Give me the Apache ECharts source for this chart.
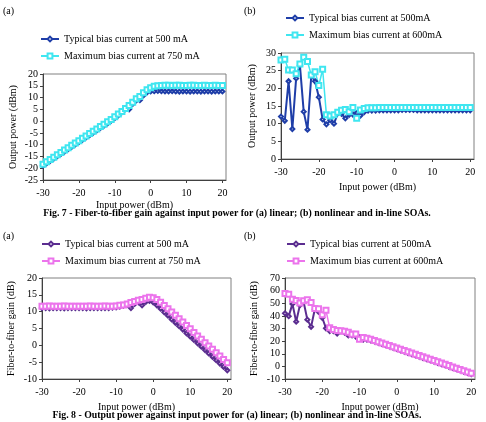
<!DOCTYPE html>
<html>
<head>
<meta charset="utf-8">
<script src="https://cdn.jsdelivr.net/npm/echarts@6/dist/echarts.min.js"></script>
<style>
  html, body { margin: 0; padding: 0; background: #fff; }
  #fig7 { width: 486px; height: 222px; }
  #fig8 { width: 486px; height: 200px; }
</style>
</head>
<body>
<div id="fig7"></div>
<div id="fig8"></div>
<script>
// input power (dBm), one point per dB
var inputPower = [-30,-29,-28,-27,-26,-25,-24,-23,-22,-21,-20,-19,-18,-17,-16,-15,-14,-13,-12,-11,
  -10,-9,-8,-7,-6,-5,-4,-3,-2,-1,0,1,2,3,4,5,6,7,8,9,10,11,12,13,14,15,16,17,18,19,20];
var xTicks = [-30, -20, -10, 0, 10, 20];

// Fig. 7 (a) output power, linear SOA
var outLinTyp = [-18.9,-17.9,-16.9,-15.9,-14.9,-13.9,-12.9,-11.9,-10.9,-9.9,
  -8.9,-7.9,-6.9,-5.9,-4.9,-3.9,-2.9,-1.9,-0.9,0.2,
  1.3,2.5,3.8,5.1,5.0,7.3,8.8,8.9,10.9,12.2,
  12.6,12.7,12.8,12.7,12.6,12.6,12.7,12.6,12.5,12.6,
  12.6,12.5,12.6,12.6,12.5,12.6,12.6,12.5,12.6,12.6,
  12.6];
var outLinMax = [-18.3,-17.3,-16.3,-15.3,-14.3,-13.3,-12.3,-11.3,-10.3,-9.3,
  -8.3,-7.3,-6.3,-5.3,-4.3,-3.3,-2.3,-1.3,-0.3,0.7,
  1.8,3.0,4.1,5.4,6.6,8.0,9.5,10.5,12.0,13.3,
  14.2,14.8,15.0,15.1,15.2,15.2,15.1,15.2,15.2,15.1,
  15.1,15.2,15.2,15.1,15.1,15.2,15.1,15.1,15.2,15.1,
  15.1];

// Fig. 7 (b) output power, nonlinear / in-line SOA
var outNonTyp = [12.0,10.8,22.0,8.5,22.8,26.5,13.4,8.3,23.5,22.0,
  17.5,11.2,9.8,11.0,10.0,12.9,12.8,11.5,12.5,12.6,
  13.0,12.3,13.3,13.7,13.7,13.7,13.8,13.8,13.8,13.8,
  13.8,13.8,13.9,13.9,13.9,13.9,13.8,13.8,13.8,13.8,
  13.8,13.8,13.8,13.8,13.8,13.8,13.8,13.8,13.8,13.8,
  13.8];
var outNonMax = [28.0,28.2,25.2,25.2,24.1,26.9,28.8,27.6,23.8,24.7,
  20.8,25.4,12.5,12.2,12.5,13.2,13.8,14.0,13.4,14.6,
  11.5,13.9,14.3,14.5,14.5,14.5,14.6,14.6,14.6,14.6,
  14.6,14.6,14.6,14.6,14.6,14.6,14.6,14.6,14.6,14.6,
  14.6,14.6,14.6,14.6,14.6,14.6,14.6,14.6,14.6,14.6,
  14.6];

// Fig. 8 (a) fiber-to-fiber gain, linear SOA
var gainLinTyp = [11.1,11.1,11.0,11.1,11.1,11.1,11.0,11.1,11.1,11.1,
  11.1,11.1,11.0,11.1,11.1,11.1,11.1,11.1,11.1,11.2,
  11.3,11.5,11.8,12.1,11.1,12.3,12.8,11.9,12.9,13.2,
  12.8,11.9,10.9,9.8,8.8,7.7,6.7,5.7,4.7,3.6,
  2.6,1.6,0.6,-0.4,-1.4,-2.4,-3.4,-4.4,-5.4,-6.4,
  -7.4];
var gainLinMax = [11.6,11.6,11.7,11.6,11.6,11.6,11.7,11.6,11.6,11.6,
  11.6,11.6,11.6,11.7,11.6,11.6,11.6,11.7,11.6,11.6,
  11.7,11.9,12.0,12.3,12.7,13.0,13.4,13.6,14.0,14.3,
  14.1,13.6,12.8,11.8,10.9,9.9,8.9,7.9,6.9,5.9,
  4.9,3.8,2.8,1.8,0.8,-0.2,-1.2,-2.2,-3.2,-4.2,
  -5.2];

// Fig. 8 (b) fiber-to-fiber gain, nonlinear / in-line SOA
var gainNonTyp = [42.0,39.8,49.5,35.4,48.5,51.0,37.0,31.3,45.3,43.2,
  38.5,30.2,28.0,28.0,26.0,27.8,26.7,24.5,24.5,23.6,
  23.0,21.3,21.3,20.7,19.8,18.8,17.8,16.8,15.8,14.8,
  13.8,12.8,11.8,10.8,9.8,8.8,7.8,6.8,5.8,4.8,
  3.8,2.8,1.8,0.8,-0.2,-1.2,-2.2,-3.2,-4.2,-5.2,
  -6.2];
var gainNonMax = [57.8,57.2,53.2,52.2,50.1,51.9,52.8,50.6,45.8,45.7,
  40.8,44.4,30.5,29.2,28.5,28.2,27.8,27.0,25.4,25.6,
  21.5,22.9,22.3,21.5,20.5,19.5,18.6,17.6,16.6,15.6,
  14.6,13.6,12.6,11.6,10.6,9.6,8.6,7.6,6.6,5.6,
  4.6,3.6,2.6,1.6,0.6,-0.4,-1.4,-2.4,-3.4,-4.4,
  -5.4];

var FONT = "Liberation Serif";
var FS = 10;
var axisColor = "#404040";

function pairs(ys) {
  return inputPower.map(function (x, i) { return [x, ys[i]]; });
}

function xAxisCfg(idx, nameGap) {
  return {
    gridIndex: idx, type: "value", min: -30, max: 21,
    axisLine: { onZero: false, lineStyle: { color: axisColor } },
    axisTick: { length: 3, customValues: xTicks, lineStyle: { color: axisColor } },
    axisLabel: { customValues: xTicks, margin: 8, fontSize: FS, fontFamily: FONT, color: "#000" },
    splitLine: { show: false },
    name: "Input power (dBm)", nameLocation: "middle", nameGap: nameGap,
    nameTextStyle: { fontSize: FS, fontFamily: FONT, color: "#000" }
  };
}

function yAxisCfg(idx, min, max, interval, name, nameGap) {
  return {
    gridIndex: idx, type: "value", min: min, max: max, interval: interval,
    axisLine: { onZero: false, lineStyle: { color: axisColor } },
    axisTick: { length: 3, lineStyle: { color: axisColor } },
    axisLabel: { margin: 5, fontSize: FS, fontFamily: FONT, color: "#000" },
    splitLine: { show: false },
    name: name, nameLocation: "middle", nameGap: nameGap,
    nameTextStyle: { fontSize: FS, fontFamily: FONT, color: "#000" }
  };
}

function typSeries(name, idx, ys, color) {
  return {
    name: name, type: "line", xAxisIndex: idx, yAxisIndex: idx, data: pairs(ys),
    symbol: "emptyDiamond", symbolSize: 4,
    lineStyle: { width: 2, color: color },
    itemStyle: { color: color, borderWidth: 1 }
  };
}

function maxSeries(name, idx, ys, color) {
  return {
    name: name, type: "line", xAxisIndex: idx, yAxisIndex: idx, data: pairs(ys),
    symbol: "emptyRect", symbolSize: 5,
    lineStyle: { width: 1.5, color: color },
    itemStyle: { color: color, borderWidth: 1 }
  };
}

function legendCfg(names, left, top) {
  return {
    data: names, orient: "vertical", left: left, top: top, padding: 0,
    itemWidth: 18, itemHeight: 6, itemGap: 7,
    textStyle: { fontSize: FS, fontFamily: FONT, color: "#000" }
  };
}

function label(text, x, y, bold) {
  return {
    type: "text", x: x, y: y,
    style: {
      text: text, fill: "#000",
      font: (bold ? "bold 9.8px" : FS + "px") + " '" + FONT + "'",
      align: bold ? "center" : "left", verticalAlign: "middle"
    }
  };
}

var gridStyle = { show: true, borderColor: "#808080", borderWidth: 1 };

// Fig. 7 -----------------------------------------------------------
var blueTyp = "#1f3ea8", cyanMax = "#3fe6f0";
var option7 = {
  animation: false,
  grid: [
    Object.assign({ left: 43, top: 74, width: 183, height: 106 }, gridStyle),
    Object.assign({ left: 281, top: 53, width: 193, height: 106 }, gridStyle)
  ],
  xAxis: [xAxisCfg(0, 20), xAxisCfg(1, 23)],
  yAxis: [
    yAxisCfg(0, -25, 20, 5, "Output power (dBm)", 25),
    yAxisCfg(1, 0, 30, 5, "Output power (dBm)", 24)
  ],
  legend: [
    legendCfg(["Typical bias current at 500 mA", "Maximum bias current at 750 mA"], 40, 34),
    legendCfg(["Typical bias current at 500mA", "Maximum bias current at 600mA"], 285, 13)
  ],
  graphic: [
    label("(a)", 3, 11, false),
    label("(b)", 244, 11, false),
    label("Fig. 7 - Fiber-to-fiber gain against input power for (a) linear; (b) nonlinear and in-line SOAs.", 237, 213, true)
  ],
  series: [
    typSeries("Typical bias current at 500 mA", 0, outLinTyp, blueTyp),
    maxSeries("Maximum bias current at 750 mA", 0, outLinMax, cyanMax),
    typSeries("Typical bias current at 500mA", 1, outNonTyp, blueTyp),
    maxSeries("Maximum bias current at 600mA", 1, outNonMax, cyanMax)
  ]
};

// Fig. 8 -----------------------------------------------------------
var purpleTyp = "#5b2d90", pinkMax = "#ec74ec";
var option8 = {
  animation: false,
  grid: [
    Object.assign({ left: 42, top: 56, width: 189, height: 101 }, gridStyle),
    Object.assign({ left: 285, top: 56, width: 190, height: 101 }, gridStyle)
  ],
  xAxis: [xAxisCfg(0, 16), xAxisCfg(1, 16)],
  yAxis: [
    yAxisCfg(0, -10, 20, 5, "Fiber-to-fiber gain (dB)", 26),
    yAxisCfg(1, -10, 70, 10, "Fiber-to-fiber gain (dB)", 26)
  ],
  legend: [
    legendCfg(["Typical bias current at 500 mA", "Maximum bias current at 750 mA"], 41, 17),
    legendCfg(["Typical bias current at 500mA", "Maximum bias current at 600mA"], 286, 17)
  ],
  graphic: [
    label("(a)", 3, 14, false),
    label("(b)", 244, 14, false),
    label("Fig. 8 - Output power against input power for (a) linear; (b) nonlinear and in-line SOAs.", 237, 193, true)
  ],
  series: [
    typSeries("Typical bias current at 500 mA", 0, gainLinTyp, purpleTyp),
    maxSeries("Maximum bias current at 750 mA", 0, gainLinMax, pinkMax),
    typSeries("Typical bias current at 500mA", 1, gainNonTyp, purpleTyp),
    maxSeries("Maximum bias current at 600mA", 1, gainNonMax, pinkMax)
  ]
};

var chart7 = echarts.init(document.getElementById("fig7"));
var chart8 = echarts.init(document.getElementById("fig8"));
chart7.setOption(option7);
chart8.setOption(option8);
</script>
</body>
</html>
